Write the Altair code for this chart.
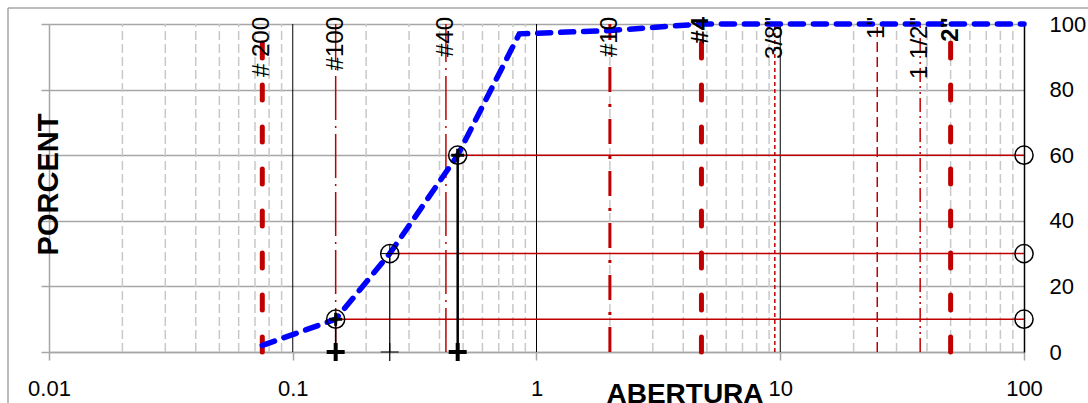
import altair as alt
import pandas as pd

# ---------------- data ----------------
sieve_names = ["# 200", "#100", "#40", "#10", "#4", '3/8"', '1"', '1 1/2"', '2"']
sieve_sizes = [0.075, 0.15, 0.425, 2.0, 4.75, 9.5, 25.0, 37.5, 50.0]
sieve_style = ["thick", "dashdot", "dashdot", "dashdot2", "thick", "dot", "dash", "dashdotdot", "thick"]
sieve_bold = [False, False, False, False, True, False, False, False, True]

curve_x = [0.075, 0.15, 0.25, 0.475, 0.85, 2.0, 4.75, 9.5, 25.0, 100.0]
curve_y = [2.0, 10.0, 30.0, 60.0, 97.0, 98.0, 100.0, 100.0, 100.0, 100.0]

d_sizes = [0.15, 0.25, 0.475]
d_pct = [10, 30, 60]
d_line_w = [1.5, 1.2, 2.5]
d_strong = [True, False, True]
right_x = [100, 100, 100]

y_ticks = [0, 20, 40, 60, 80, 100]
x_decades = [0.01, 0.1, 1, 10, 100]
x_major_grid = [0.1, 1, 10]
minor_mult = [2, 3, 4, 5, 6, 7, 8, 9]
minor_x = [m * d for d in [0.01, 0.1, 1, 10] for m in minor_mult]

RED = "#c00000"
GRAY = "#a6a6a6"
FONT = "Liberation Sans"

xs = alt.Scale(type="log", domain=[0.01, 100])
ys = alt.Scale(domain=[0, 100])

# ---------------- axes ----------------
x_axis = alt.Axis(orient="bottom", values=x_decades, format="~g", tickSize=8, tickColor=GRAY,
                  tickWidth=1.5, domainColor=GRAY, domainWidth=1.5, grid=False, labelFontSize=22,
                  labelColor="black", labelPadding=18, labelFlush=False, labelOverlap=False,
                  title="ABERTURA", titleFontSize=28, titleFontWeight="bold", titleColor="black",
                  titleX=635.5, titleY=50, titleAlign="center", titleBaseline="alphabetic")
left_axis = alt.Axis(orient="left", values=y_ticks, labels=False, tickSize=8, tickColor=GRAY,
                     tickWidth=1.5, domainColor=GRAY, domainWidth=1.5, grid=True, gridColor=GRAY,
                     gridWidth=1.5, title="PORCENT", titleFontSize=29, titleFontWeight="bold",
                     titleColor="black", titleAngle=270, titleX=-1, titleY=160,
                     titleAlign="center", titleBaseline="middle")
right_axis = alt.Axis(orient="right", values=y_ticks, ticks=False, labelPadding=25,
                      domainColor="black", domainWidth=1.5, grid=False, labelFontSize=22,
                      labelColor="black", labelAlign="left", title=None)

# ---------------- frames ----------------
minor_df = pd.DataFrame({"x": minor_x, "y0": 0, "y1": 100})
major_df = pd.DataFrame({"x": x_major_grid, "y0": 0, "y1": 100})
sieve_df = pd.DataFrame({"name": sieve_names, "size": sieve_sizes, "style": sieve_style,
                         "bold": sieve_bold, "y0": 0, "y1": 100})
curve_df = pd.DataFrame({"x": curve_x, "y": curve_y})
d_df = pd.DataFrame({"x": d_sizes, "y": d_pct, "w": d_line_w, "strong": d_strong,
                     "xr": right_x, "y0": 0})

X = lambda f: alt.X(f, scale=xs, axis=x_axis)
Y = lambda f: alt.Y(f, scale=ys, axis=None)

layers = []

# outer frame
layers.append(alt.Chart(pd.DataFrame({"k": [0]})).mark_rule(color=GRAY, strokeWidth=1.5).encode(
    x=alt.value(-41), y=alt.value(-16), y2=alt.value(380)))
layers.append(alt.Chart(pd.DataFrame({"k": [0]})).mark_rule(color=GRAY, strokeWidth=1.5).encode(
    x=alt.value(-41), x2=alt.value(1040), y=alt.value(-16)))

# minor dashed grid (carries left axis with horizontal grid)
layers.append(alt.Chart(minor_df).mark_rule(color="#c8c8c8", strokeWidth=1.5, strokeDash=[9, 4]).encode(
    x=X("x:Q"), y=alt.Y("y0:Q", scale=ys, axis=left_axis), y2="y1:Q"))
# major vertical grid
layers.append(alt.Chart(major_df).mark_rule(color="black", strokeWidth=1).encode(
    x=X("x:Q"), y=Y("y0:Q"), y2="y1:Q"))

styles = {
    "thick": dict(strokeWidth=5, strokeDash=[15, 27], strokeCap="round"),
    "dashdot": dict(strokeWidth=1.5, strokeDash=[44, 6, 2, 6]),
    "dashdot2": dict(strokeWidth=3, strokeDash=[25, 12, 3, 12]),
    "dot": dict(strokeWidth=1.5, strokeDash=[4, 3]),
    "dash": dict(strokeWidth=1.5, strokeDash=[10, 5]),
    "dashdotdot": dict(strokeWidth=1.5, strokeDash=[14, 4, 2, 4, 2, 4]),
}
for st, kw in styles.items():
    layers.append(alt.Chart(sieve_df).transform_filter(alt.datum.style == st)
                  .mark_rule(color=RED, **kw).encode(x=X("size:Q"), y=Y("y0:Q"), y2="y1:Q"))

# red horizontal lines
layers.append(alt.Chart(d_df).mark_rule(color=RED, strokeWidth=1.5).encode(
    x=X("x:Q"), x2="xr:Q", y=Y("y:Q")))
# black verticals
layers.append(alt.Chart(d_df).mark_rule(color="black").encode(
    x=X("x:Q"), y=Y("y0:Q"), y2="y:Q", strokeWidth=alt.StrokeWidth("w:Q", scale=None)))

# blue curve
layers.append(alt.Chart(curve_df).mark_line(color="#0000ff", strokeWidth=5.5, strokeDash=[13, 10],
                                            strokeCap="round").encode(
    x=X("x:Q"), y=Y("y:Q")))

# circles
circ = dict(shape="circle", filled=False, color="black", strokeWidth=1.5, size=330, opacity=1)
layers.append(alt.Chart(d_df).mark_point(**circ).encode(x=X("x:Q"), y=Y("y:Q")))
layers.append(alt.Chart(d_df).mark_point(**circ).encode(
    x=X("xr:Q"), y=alt.Y("y:Q", scale=ys, axis=right_axis)))

PLUS = "M-1,0H1M0,-1V1"
layers.append(alt.Chart(d_df).transform_filter(alt.datum.strong).mark_point(
    shape=PLUS, filled=False, color="black", strokeWidth=4, size=324, opacity=1).encode(
    x=X("x:Q"), y=Y("y0:Q")))
layers.append(alt.Chart(d_df).transform_filter(alt.datum.strong).mark_point(
    shape=PLUS, filled=False, color="black", strokeWidth=3, size=169, opacity=1).encode(
    x=X("x:Q"), y=Y("y:Q")))
layers.append(alt.Chart(d_df).transform_filter(~alt.datum.strong).mark_point(
    shape=PLUS, filled=False, color="black", strokeWidth=1.2, size=324, opacity=1).encode(
    x=X("x:Q"), y=Y("y0:Q")))
layers.append(alt.Chart(d_df).transform_filter(~alt.datum.strong).mark_point(
    shape=PLUS, filled=False, color="black", strokeWidth=1, size=300, opacity=1).encode(
    x=X("x:Q"), y=Y("y:Q")))

# sieve labels
for bold in [False, True]:
    layers.append(alt.Chart(sieve_df).transform_filter(alt.datum.bold == bold).mark_text(
        angle=270, align="right", baseline="middle", fontSize=24, color="black",
        fontWeight="bold" if bold else "normal").encode(
        x=X("size:Q"), y=alt.value(-7), text="name:N"))

chart = alt.layer(*layers).resolve_axis(y="independent").properties(
    width=975, height=328,
    padding={"left": 49, "top": 24, "right": 64, "bottom": 51},
    autosize=alt.AutoSizeParams(type="none"),
    background="white",
).configure(font=FONT).configure_view(stroke=None)

chart.save("out.html", embed_options={"renderer": "svg", "actions": False})
